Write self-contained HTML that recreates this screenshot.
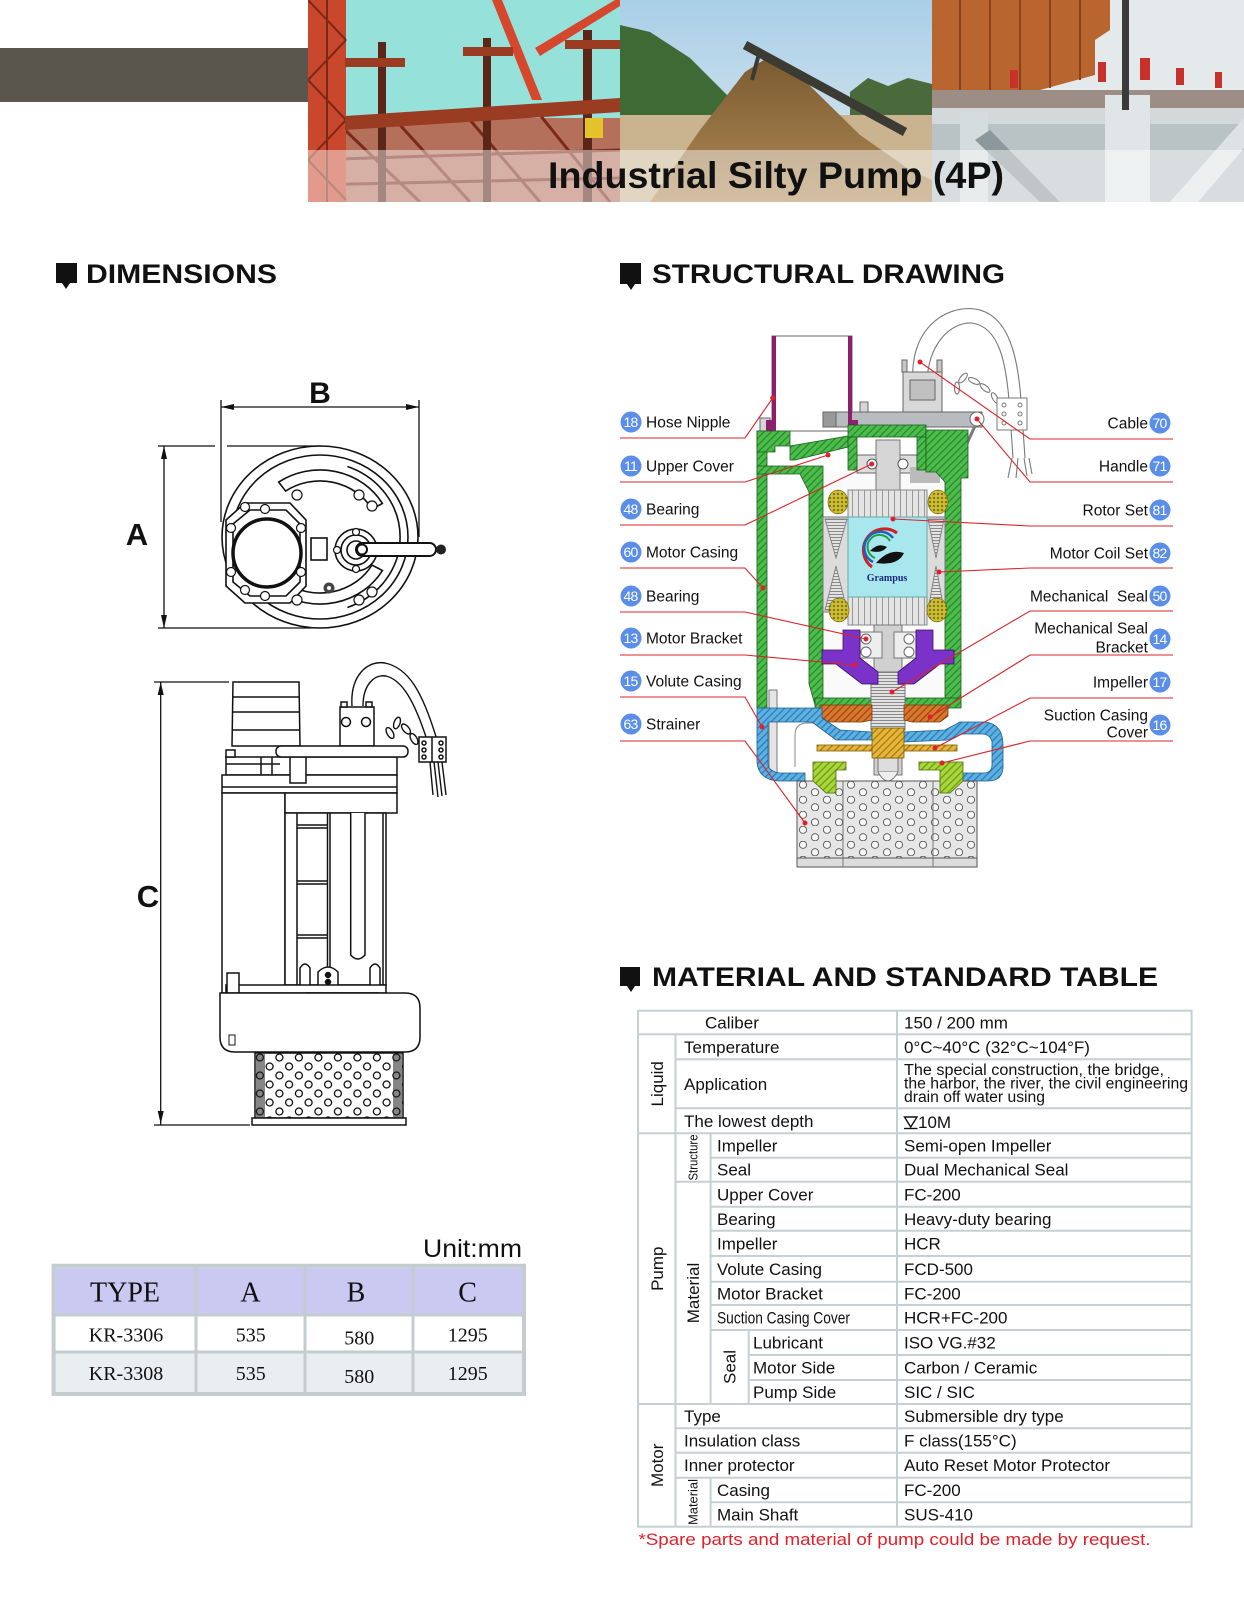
<!DOCTYPE html>
<html><head><meta charset="utf-8"><style>
html,body{margin:0;padding:0;background:#fff;}
svg{display:block;}
text{font-family:"Liberation Sans",Arial,sans-serif;}
.sf{font-family:"Liberation Serif","Times New Roman",serif;}
</style></head><body>
<svg width="1244" height="1600" viewBox="0 0 1244 1600" xmlns="http://www.w3.org/2000/svg">
<defs>
<pattern id="hg" width="5" height="5" patternUnits="userSpaceOnUse" patternTransform="rotate(45)"><rect width="5" height="5" fill="#4cbc4c"/><rect width="1.3" height="5" fill="#2a8a2c"/></pattern>
<pattern id="hb" width="5" height="5" patternUnits="userSpaceOnUse" patternTransform="rotate(45)"><rect width="5" height="5" fill="#5cb0e2"/><rect width="1.3" height="5" fill="#2f7db5"/></pattern>
<pattern id="ho" width="5" height="5" patternUnits="userSpaceOnUse" patternTransform="rotate(45)"><rect width="5" height="5" fill="#d9772f"/><rect width="1.3" height="5" fill="#9a4a12"/></pattern>
<pattern id="hy" width="5" height="5" patternUnits="userSpaceOnUse" patternTransform="rotate(45)"><rect width="5" height="5" fill="#e6b63a"/><rect width="1.3" height="5" fill="#a67c12"/></pattern>
<pattern id="hl" width="5" height="5" patternUnits="userSpaceOnUse" patternTransform="rotate(45)"><rect width="5" height="5" fill="#a9d63c"/><rect width="1.3" height="5" fill="#6c9c14"/></pattern>
<pattern id="hz" width="4" height="3" patternUnits="userSpaceOnUse"><rect width="4" height="3" fill="#e2e2e2"/><rect width="4" height="1" fill="#8a8a8a"/></pattern>
<pattern id="vs" width="6" height="4" patternUnits="userSpaceOnUse"><rect width="6" height="4" fill="#e4e4e4"/><rect width="1" height="4" fill="#999"/></pattern>
<pattern id="dots" width="4" height="4" patternUnits="userSpaceOnUse"><rect width="4" height="4" fill="#cbbb30"/><circle cx="2" cy="2" r="1" fill="#6a6010"/></pattern>
<pattern id="sh" width="24" height="15" patternUnits="userSpaceOnUse" x="797" y="781"><rect width="24" height="15" fill="#e6e6e6"/><circle cx="6" cy="3.75" r="3.6" fill="#f8f8f8" stroke="#555" stroke-width="0.9"/><circle cx="18" cy="11.25" r="3.6" fill="#f8f8f8" stroke="#555" stroke-width="0.9"/></pattern>
<pattern id="dh" width="19.5" height="18" patternUnits="userSpaceOnUse" x="255" y="1053"><rect width="19.5" height="18" fill="#fff"/><circle cx="4.9" cy="4.5" r="3.5" fill="#fff" stroke="#111" stroke-width="1.3"/><circle cx="14.6" cy="13.5" r="3.5" fill="#fff" stroke="#111" stroke-width="1.3"/></pattern>
<linearGradient id="sky2" x1="0" y1="0" x2="0" y2="1"><stop offset="0" stop-color="#a9cfe8"/><stop offset="1" stop-color="#dfe9ee"/></linearGradient>
<linearGradient id="sand" x1="0" y1="0" x2="0" y2="1"><stop offset="0" stop-color="#7a5a30"/><stop offset="1" stop-color="#b08a55"/></linearGradient>
<clipPath id="c1"><rect x="308" y="0" width="312" height="202"/></clipPath>
<clipPath id="c2"><rect x="620" y="0" width="312" height="202"/></clipPath>
<clipPath id="c3"><rect x="932" y="0" width="312" height="202"/></clipPath>
</defs>

<!-- ===== HEADER ===== -->
<rect x="0" y="48" width="308" height="54" fill="#5b564d"/>
<g clip-path="url(#c1)">
<rect x="308" y="0" width="312" height="202" fill="#97e1db"/>
<rect x="308" y="118" width="312" height="84" fill="#b5705c"/>
<g stroke="#7a2a18" stroke-width="3">
<line x1="345" y1="130" x2="420" y2="202"/><line x1="400" y1="125" x2="470" y2="202"/><line x1="470" y1="120" x2="540" y2="202"/><line x1="540" y1="115" x2="610" y2="202"/>
<line x1="308" y1="160" x2="620" y2="150"/><line x1="308" y1="185" x2="620" y2="178"/>
</g>
<rect x="308" y="0" width="38" height="202" fill="#c9472c"/>
<g stroke="#7d2816" stroke-width="2"><line x1="308" y1="0" x2="346" y2="40"/><line x1="346" y1="40" x2="308" y2="80"/><line x1="308" y1="80" x2="346" y2="120"/><line x1="346" y1="120" x2="308" y2="160"/><line x1="308" y1="160" x2="346" y2="200"/><line x1="327" y1="0" x2="327" y2="202"/></g>
<path d="M492,0 L502,0 L542,100 L532,100 Z" fill="#d6482e"/>
<path d="M535,48 L615,0 L620,0 L620,6 L540,56 Z" fill="#d6482e"/>
<rect x="378" y="42" width="8" height="160" fill="#5a2617"/>
<rect x="483" y="38" width="8" height="164" fill="#5a2617"/>
<rect x="583" y="30" width="9" height="172" fill="#5a2617"/>
<rect x="345" y="58" width="60" height="9" fill="#9a3c22"/>
<rect x="463" y="47" width="50" height="9" fill="#9a3c22"/>
<rect x="565" y="40" width="55" height="9" fill="#9a3c22"/>
<path d="M345,116 L620,98 L620,112 L345,130 Z" fill="#9a3c22"/>
<rect x="585" y="118" width="18" height="20" fill="#e4c22a"/>
</g>
<g clip-path="url(#c2)">
<rect x="620" y="0" width="312" height="202" fill="url(#sky2)"/>
<path d="M620,25 L650,32 L690,58 L730,98 L748,120 L620,125 Z" fill="#3e6b35"/>
<path d="M850,92 L868,78 L888,86 L908,78 L932,84 L932,125 L850,125 Z" fill="#4b6a3b"/>
<rect x="620" y="115" width="312" height="87" fill="#c9b48f"/>
<path d="M650,202 L700,130 L745,72 L770,56 L800,76 L860,135 L910,170 L932,180 L932,202 Z" fill="url(#sand)"/>
<line x1="745" y1="45" x2="905" y2="132" stroke="#3b3a33" stroke-width="9"/>
<line x1="760" y1="50" x2="752" y2="80" stroke="#3b3a33" stroke-width="4"/>
</g>
<g clip-path="url(#c3)">
<rect x="932" y="0" width="312" height="202" fill="#e4eaec"/>
<path d="M932,0 L1110,0 L1110,30 L1095,40 L1095,75 L1040,90 L932,95 Z" fill="#b8652f"/>
<g stroke="#8a4218" stroke-width="2"><line x1="960" y1="0" x2="960" y2="92"/><line x1="990" y1="0" x2="990" y2="92"/><line x1="1020" y1="0" x2="1020" y2="90"/><line x1="1050" y1="0" x2="1050" y2="88"/><line x1="1080" y1="0" x2="1080" y2="80"/></g>
<rect x="932" y="90" width="312" height="22" fill="#9c8e84"/>
<rect x="932" y="112" width="312" height="90" fill="#b9c3c6"/>
<rect x="932" y="108" width="312" height="16" fill="#d3d9db"/>
<rect x="1105" y="95" width="45" height="107" fill="#e0e5e7"/>
<rect x="960" y="112" width="28" height="90" fill="#d5dcde"/>
<path d="M1170,202 L1244,118 L1244,148 L1198,202 Z" fill="#dde3e5"/>
<path d="M990,130 L1060,202 L1040,202 L975,140 Z" fill="#8c989c"/>
<rect x="1122" y="0" width="7" height="110" fill="#3a3a3a"/>
<g fill="#c8302a"><rect x="1010" y="70" width="8" height="18"/><rect x="1098" y="62" width="8" height="20"/><rect x="1140" y="58" width="10" height="22"/><rect x="1176" y="68" width="8" height="17"/><rect x="1215" y="72" width="7" height="16"/></g>
</g>
<rect x="308" y="150" width="936" height="52" fill="#fff" opacity="0.45"/>
<text x="548" y="188" font-size="37" font-weight="bold" fill="#111" textLength="456" lengthAdjust="spacingAndGlyphs">Industrial Silty Pump (4P)</text>

<!-- ===== SECTION HEADERS ===== -->
<path d="M56,263 L77,263 L77,283 L70,283 L66,289 L62,283 L56,283 Z" fill="#111"/>
<text x="86" y="283" font-size="27" font-weight="bold" fill="#111" textLength="191" lengthAdjust="spacingAndGlyphs">DIMENSIONS</text>
<path d="M620,263 L641,263 L641,284 L635,284 L631,290 L627,284 L620,284 Z" fill="#111"/>
<text x="652" y="283" font-size="27" font-weight="bold" fill="#111" textLength="353" lengthAdjust="spacingAndGlyphs">STRUCTURAL DRAWING</text>
<path d="M620,967 L640,967 L640,986 L635,986 L631,992 L627,986 L620,986 Z" fill="#111"/>
<text x="652" y="986" font-size="27" font-weight="bold" fill="#111" textLength="506" lengthAdjust="spacingAndGlyphs">MATERIAL AND STANDARD TABLE</text>

<!-- ===== TOP VIEW ===== -->
<g stroke="#111" stroke-width="1.3" fill="none">
<line x1="221" y1="400" x2="221" y2="522"/>
<line x1="419" y1="400" x2="419" y2="537"/>
<line x1="221" y1="407" x2="419" y2="407"/>
<line x1="158" y1="446" x2="215" y2="446"/><line x1="227" y1="446" x2="322" y2="446"/>
<line x1="158" y1="628" x2="311" y2="628"/>
<line x1="164" y1="446" x2="164" y2="628"/>
</g>
<g fill="#111">
<polygon points="221,407 234,404 234,410"/><polygon points="419,407 406,404 406,410"/>
<polygon points="164,446 161,459 167,459"/><polygon points="164,628 161,615 167,615"/>
</g>
<text x="320" y="403" font-size="30" font-weight="bold" text-anchor="middle" fill="#111">B</text>
<text x="137" y="545" font-size="31" font-weight="bold" text-anchor="middle" fill="#111">A</text>
<g stroke="#111" stroke-width="1.6" fill="none">
<ellipse cx="320" cy="537" rx="98" ry="91" fill="#fff"/>
<ellipse cx="320" cy="537" rx="88" ry="82"/>
<path d="M347.4,466.5 A80,75 0 0 1 347.4,607.5"/>
<path d="M278.7,482.1 A72,67 0 0 1 382.4,503.5 L372,509 A60,56 0 0 0 285.6,491.1 Z" fill="#fff"/>
<path d="M278.7,591.9 A72,67 0 0 0 382.4,570.5 L372,565 A60,56 0 0 1 285.6,582.9 Z" fill="#fff"/>
<path d="M245,503 L290,503 L306,520 L306,586 L290,603 L245,603 L226,586 L226,520 Z" fill="#fff"/>
<path d="M250,510 L286,510 L300,524 L300,582 L286,596 L250,596 L233,582 L233,524 Z"/>
<circle cx="267" cy="553" r="34" fill="#fff" stroke-width="3.5"/>
<rect x="311" y="538" width="16" height="22" fill="#fff"/>
<circle cx="356" cy="550" r="21" fill="#fff"/>
<circle cx="356" cy="550" r="15"/>
<circle cx="356" cy="550" r="9"/>
</g>
<g stroke="#111" stroke-width="1.2" fill="#fff">
<circle cx="297" cy="495" r="5"/><circle cx="359" cy="495" r="5"/><circle cx="372" cy="506" r="5"/>
<circle cx="297" cy="600" r="5"/><circle cx="359" cy="600" r="5"/><circle cx="372" cy="592" r="5"/>
<circle cx="245" cy="507" r="4.5"/><circle cx="265" cy="509" r="4.5"/><circle cx="301" cy="528" r="4.5"/><circle cx="301" cy="572" r="4.5"/>
<circle cx="265" cy="596" r="4.5"/><circle cx="245" cy="590" r="4.5"/><circle cx="231" cy="528" r="4.5"/><circle cx="231" cy="572" r="4.5"/>
<circle cx="356" cy="532" r="3.5"/><circle cx="356" cy="569" r="3.5"/><circle cx="337" cy="550" r="3.5"/>
<rect x="356" y="543" width="80" height="13" rx="6.5" stroke-width="2"/>
<circle cx="362" cy="549.5" r="5" stroke-width="2"/>
</g>
<circle cx="441" cy="549.5" r="5" fill="#222"/>
<circle cx="329" cy="588" r="5.5" fill="#444"/><circle cx="329" cy="588" r="2" fill="#fff"/>

<!-- ===== SIDE VIEW ===== -->
<g stroke="#111" stroke-width="1.3" fill="none">
<line x1="154" y1="682" x2="229" y2="682"/>
<line x1="154" y1="1125" x2="250" y2="1125"/>
<line x1="160.7" y1="682" x2="160.7" y2="1125"/>
</g>
<polygon points="160.7,682 157.7,695 163.7,695" fill="#111"/>
<polygon points="160.7,1124 157.7,1111 163.7,1111" fill="#111"/>
<text x="148" y="907" font-size="31" font-weight="bold" text-anchor="middle" fill="#111">C</text>
<g stroke="#111" stroke-width="1.4" fill="none">
<path d="M352,706 C350,675 368,660 385,663 C408,668 422,690 437,740"/>
<path d="M363,706 C363,685 374,674 386,676 C402,680 414,700 427,740"/>
<ellipse cx="390" cy="733" rx="3" ry="6" transform="rotate(-30 390 733)"/>
<ellipse cx="397" cy="723" rx="3" ry="6" transform="rotate(20 397 723)"/>
<ellipse cx="406" cy="729" rx="3" ry="6" transform="rotate(-40 406 729)"/>
<ellipse cx="414" cy="739" rx="3" ry="6" transform="rotate(-30 414 739)"/>
<path d="M430,762 L433,795 M434,762 L438,797 M438,762 L442,796 M442,762 L446,795"/>
</g>
<g stroke="#111" stroke-width="1.5" fill="#fff">
<path d="M233,682 L299,682 L300,746 L232,746 Z"/>
<line x1="232" y1="697" x2="300" y2="697"/><line x1="232" y1="712" x2="300" y2="712"/><line x1="232" y1="730" x2="300" y2="730"/>
<rect x="340" y="707" width="34" height="39"/>
<rect x="341" y="702" width="6" height="5"/><rect x="366" y="702" width="6" height="5"/>
<circle cx="346" cy="722" r="4.5"/><circle cx="366" cy="722" r="4.5"/>
<rect x="419" y="737" width="27" height="25"/>
<line x1="432" y1="737" x2="432" y2="762"/>
<circle cx="424" cy="743" r="2"/><circle cx="424" cy="750" r="2"/><circle cx="424" cy="757" r="2"/>
<circle cx="441" cy="743" r="2"/><circle cx="441" cy="750" r="2"/><circle cx="441" cy="757" r="2"/>
<rect x="226" y="757" width="171" height="18"/>
<line x1="226" y1="764" x2="280" y2="764"/><line x1="261" y1="757" x2="261" y2="775"/><line x1="272" y1="757" x2="272" y2="775"/>
<rect x="226" y="750" width="9" height="7"/>
<rect x="222" y="775" width="175" height="18"/>
<line x1="222" y1="787" x2="397" y2="787"/>
<rect x="290" y="757" width="16" height="26"/>
<rect x="276" y="746" width="132" height="11" rx="5"/>
<rect x="222" y="793" width="63" height="200"/>
<rect x="285" y="793" width="112" height="20"/>
<rect x="285" y="813" width="101" height="172"/>
<line x1="297" y1="813" x2="297" y2="985"/><line x1="327.5" y1="813" x2="327.5" y2="985"/><line x1="330" y1="813" x2="330" y2="985"/><line x1="383" y1="813" x2="383" y2="985"/>
<path d="M350.7,813 L350.7,955 Q357.8,963 365,955 L365,813"/>
<line x1="297" y1="825" x2="327.5" y2="825"/><line x1="297" y1="828" x2="327.5" y2="828"/>
<line x1="297" y1="881" x2="327.5" y2="881"/><line x1="297" y1="884" x2="327.5" y2="884"/>
<line x1="297" y1="935" x2="327.5" y2="935"/><line x1="297" y1="938" x2="327.5" y2="938"/>
<path d="M300,985 L300,968 Q305,960 310,968 L310,985"/>
<path d="M370,985 L370,968 Q375,960 380,968 L380,985"/>
<path d="M318,985 L318,972 Q328,962 338,972 L338,985"/>
<circle cx="328" cy="975" r="2.5" fill="#111"/><circle cx="328" cy="982" r="2.5" fill="#111"/>
<rect x="226" y="985" width="160" height="8"/>
<rect x="227" y="973" width="12" height="20"/>
<rect x="306" y="993" width="72" height="12"/>
<path d="M220,993 L405,993 Q420,993 420,1008 L420,1037 Q420,1052 405,1052 L235,1052 Q220,1052 220,1037 Z"/>
<rect x="255" y="1053" width="148" height="65" fill="url(#dh)"/>
<rect x="252" y="1118" width="154" height="7"/>
</g>
<rect x="256" y="1054" width="9" height="63" fill="#222" opacity="0.55"/>
<rect x="393" y="1054" width="9" height="63" fill="#222" opacity="0.55"/>
<rect x="229" y="1035" width="6" height="10" fill="none" stroke="#111"/>

<!-- ===== STRUCTURAL DRAWING ===== -->
<g stroke="#7a7a7a" stroke-width="1.1" fill="none">
<path d="M914,392 C905,330 945,305 975,309 C1010,314 1018,360 1021,400 L1025,458"/>
<path d="M927,392 C925,345 950,322 972,323 C1000,327 1006,365 1009,400 L1013,458"/>
<path d="M1012,458 L1008,478 M1018,458 L1016,478 M1024,458 L1027,476 M1029,458 L1032,474"/>
<ellipse cx="957" cy="388" rx="2.5" ry="6"/>
<ellipse cx="963" cy="378" rx="2.5" ry="6" transform="rotate(40 963 378)"/>
<ellipse cx="974" cy="381" rx="6" ry="2.5" transform="rotate(25 974 381)"/>
<ellipse cx="985" cy="388" rx="6" ry="2.5" transform="rotate(40 985 388)"/>
<ellipse cx="995" cy="398" rx="2.5" ry="6" transform="rotate(-30 995 398)"/>
<path d="M975,426 L963,452" stroke-width="3"/>
</g>
<g stroke="#777" stroke-width="1" fill="#fff">
<rect x="997" y="398" width="30" height="32"/>
<circle cx="1004" cy="405" r="2"/><circle cx="1004" cy="414" r="2"/><circle cx="1004" cy="423" r="2"/>
<circle cx="1020" cy="405" r="2"/><circle cx="1020" cy="414" r="2"/><circle cx="1020" cy="423" r="2"/>
</g>
<g stroke="#666" stroke-width="1">
<rect x="903" y="372" width="39" height="40" fill="#d8d8d8"/>
<rect x="910" y="380" width="25" height="20" fill="#c0c0c0"/>
<rect x="902" y="360" width="5" height="12" fill="#c8c8c8"/><rect x="937" y="360" width="5" height="12" fill="#c8c8c8"/>
<rect x="772" y="336" width="80" height="95" fill="#fff"/>
<rect x="823" y="412" width="159" height="15" fill="#b8bcc0"/>
<rect x="823" y="412" width="13" height="15" fill="#999"/>
<circle cx="977" cy="419" r="7" fill="#fff"/>
<rect x="760" y="418" width="10" height="16" fill="#d5d5d5"/>
<rect x="860" y="402" width="8" height="10" fill="#d5d5d5"/>
</g>
<rect x="772" y="336" width="4" height="95" fill="#8d1f6e"/>
<rect x="848" y="336" width="4" height="95" fill="#8d1f6e"/>
<rect x="766" y="420" width="10" height="11" fill="#8d1f6e"/>
<rect x="848" y="420" width="10" height="11" fill="#8d1f6e"/>
<!-- interior -->
<rect x="823" y="472" width="122" height="226" fill="#fafafa"/>
<rect x="857" y="455" width="60" height="18" fill="#ddd" stroke="#666"/>
<rect x="876" y="440" width="24" height="50" fill="#d5d5d5" stroke="#777"/>
<circle cx="872" cy="464" r="5" fill="#fff" stroke="#555"/><circle cx="903" cy="464" r="5" fill="#fff" stroke="#555"/>
<rect x="910" y="467" width="30" height="16" fill="#bbb"/>
<!-- green casing -->
<g fill="url(#hg)" stroke="#1d5e20" stroke-width="0.8">
<rect x="757" y="431" width="10" height="277"/>
<path d="M757,431 L790,431 L790,446 L775,446 L775,452 L757,452 Z"/>
<path d="M790,446 L848,436 L848,447 L795,460 L790,460 Z"/>
<rect x="848" y="425" width="78" height="12"/>
<rect x="848" y="437" width="9" height="33"/>
<rect x="917" y="437" width="9" height="33"/>
<path d="M926,430 L968,430 L968,478 L961,478 L961,705 L945,705 L945,482 L936,472 L926,472 Z"/>
<path d="M757,466 L823,466 L823,705 L815,705 L809,684 L809,492 L800,474 L757,474 Z"/>
<rect x="815" y="698" width="146" height="10"/>
</g>
<!-- stator / rotor -->
<rect x="823" y="517" width="122" height="95" fill="#dcdcdc" stroke="#777"/>
<g fill="url(#hz)" stroke="#777" stroke-width="0.8">
<polygon points="825,519 847,519 836,558"/><polygon points="825,610 847,610 836,566"/>
<polygon points="928,519 944,519 936,558"/><polygon points="928,610 944,610 936,566"/>
</g>
<rect x="848" y="490" width="79" height="27" fill="url(#vs)" stroke="#888"/>
<rect x="848" y="597" width="79" height="28" fill="url(#vs)" stroke="#888"/>
<rect x="848" y="517" width="79" height="80" fill="#a9e7ef" stroke="#6aa"/>
<g fill="url(#dots)" stroke="#6a6010" stroke-width="0.6">
<ellipse cx="838" cy="502" rx="10" ry="12"/><ellipse cx="938" cy="502" rx="10" ry="12"/>
<ellipse cx="839" cy="610" rx="10" ry="12"/><ellipse cx="937" cy="610" rx="10" ry="12"/>
</g>
<path d="M897,533 A21,21 0 1 0 872,567" stroke="#d02020" stroke-width="3" fill="none"/>
<path d="M893,538 A16,16 0 1 0 873,562" stroke="#2060c0" stroke-width="2.5" fill="none"/>
<path d="M890,541 A12,12 0 1 0 875,558" stroke="#20a040" stroke-width="2" fill="none"/>
<path d="M870,551 q8,-9 17,-4 q-5,7 -17,4z" fill="#111"/>
<path d="M876,563 q13,-15 28,-10 q-6,13 -28,10z" fill="#111"/>
<text x="887" y="581" class="sf" font-size="10" font-weight="bold" text-anchor="middle" fill="#1a2a7a">Grampus</text>
<!-- shaft & bracket -->
<rect x="874" y="625" width="28" height="150" fill="#d0d0d0" stroke="#777"/>
<rect x="871" y="672" width="34" height="58" fill="url(#hz)" stroke="#777"/>
<rect x="860" y="632" width="22" height="26" fill="#eee" stroke="#777"/>
<rect x="894" y="632" width="22" height="26" fill="#eee" stroke="#777"/>
<circle cx="866" cy="639" r="5" fill="#fff" stroke="#666"/><circle cx="866" cy="652" r="5" fill="#fff" stroke="#666"/>
<circle cx="909" cy="639" r="5" fill="#fff" stroke="#666"/><circle cx="909" cy="652" r="5" fill="#fff" stroke="#666"/>
<g fill="#7a32c8" stroke="#3a1060" stroke-width="0.8">
<path d="M843,630 L860,630 L860,658 L878,672 L878,684 L862,684 L836,664 L822,664 L822,650 L843,650 Z"/>
<path d="M933,630 L916,630 L916,658 L898,672 L898,684 L914,684 L940,664 L954,664 L954,650 L933,650 Z"/>
</g>
<g fill="url(#ho)" stroke="#7a3a0a" stroke-width="0.8">
<path d="M820,705 L872,705 L872,720 L862,722 L828,722 L820,716 Z"/>
<path d="M904,705 L948,705 L948,716 L940,722 L912,722 L904,720 Z"/>
</g>
<rect x="769" y="690" width="8" height="83" fill="#e5e5e5" stroke="#777"/>
<path d="M795,767 L795,735 Q795,723 808,723 L823,723" fill="none" stroke="#888"/>
<!-- volute -->
<g fill="url(#hb)" stroke="#1f5f90" stroke-width="0.8">
<path d="M757,708 L822,708 L822,718 L840,730 L872,732 L872,740 L836,740 L812,722 L768,722 L768,765 Q770,772 780,773 L805,773 L805,781 L778,781 Q757,779 757,760 Z"/>
<path d="M904,732 L945,730 L960,722 L985,722 Q1003,724 1003,745 L1003,768 Q1002,781 988,781 L962,781 L962,773 L985,773 Q992,772 992,765 L992,742 Q990,734 982,734 L962,734 L948,740 L904,742 Z"/>
</g>
<rect x="878" y="758" width="20" height="14" fill="#ddd" stroke="#777"/>
<path d="M878,772 Q888,790 898,772" fill="#eee" stroke="#777"/>
<!-- strainer -->
<rect x="797" y="781" width="180" height="78" fill="url(#sh)" stroke="#555"/>
<rect x="797" y="858" width="180" height="9" fill="#ddd" stroke="#555"/>
<line x1="843" y1="781" x2="843" y2="867" stroke="#777"/><line x1="933" y1="781" x2="933" y2="867" stroke="#777"/>
<g fill="url(#hy)" stroke="#7a5a08" stroke-width="0.8">
<rect x="817" y="745" width="140" height="6"/>
<rect x="872" y="728" width="32" height="30"/>
</g>
<g fill="url(#hl)" stroke="#4a6a08" stroke-width="0.8">
<path d="M813,762 L846,762 L846,770 L836,770 L836,793 L826,793 L813,781 Z"/>
<path d="M919,762 L963,762 L963,781 L950,793 L940,793 L940,770 L919,770 Z"/>
</g>

<!-- leaders -->
<g stroke="#d9242a" stroke-width="1.1" fill="none">
<polyline points="620,438 745,438 772.7,398"/>
<polyline points="620,482 745,482 828,455"/>
<polyline points="620,525 745,525 871.7,464"/>
<polyline points="620,568 745,568 763,588"/>
<polyline points="620,612 745,612 866,639"/>
<polyline points="620,655 745,655 855,665"/>
<polyline points="620,697 745,697 762,727"/>
<polyline points="620,741 745,741 805,823"/>
<polyline points="1173,439 1030,439 920,362"/>
<polyline points="1173,482 1030,482 977,419"/>
<polyline points="1173,526 1030,526 893,519"/>
<polyline points="1173,568 1030,568 939,572"/>
<polyline points="1173,611 1030,611 892,692"/>
<polyline points="1173,655 1030,655 930,717"/>
<polyline points="1173,698 1030,698 935,748"/>
<polyline points="1173,741 1030,741 942,763"/>
</g>
<g fill="#e0202a">
<circle cx="772.7" cy="398" r="2.5"/><circle cx="828" cy="455" r="2.5"/><circle cx="871.7" cy="464" r="2.5"/><circle cx="763" cy="588" r="2.5"/>
<circle cx="866" cy="639" r="2.5"/><circle cx="855" cy="665" r="2.5"/><circle cx="762" cy="727" r="2.5"/><circle cx="805" cy="823" r="2.5"/>
<circle cx="920" cy="362" r="2.5"/><circle cx="977" cy="419" r="2.5"/><circle cx="893" cy="519" r="2.5"/><circle cx="939" cy="572" r="2.5"/>
<circle cx="892" cy="692" r="2.5"/><circle cx="930" cy="717" r="2.5"/><circle cx="935" cy="748" r="2.5"/><circle cx="942" cy="763" r="2.5"/>
</g>
<g fill="#5a8ee8">
<circle cx="631" cy="422" r="10.5"/><circle cx="631" cy="466" r="10.5"/><circle cx="631" cy="509" r="10.5"/><circle cx="631" cy="552" r="10.5"/>
<circle cx="631" cy="596" r="10.5"/><circle cx="631" cy="638" r="10.5"/><circle cx="631" cy="681" r="10.5"/><circle cx="631" cy="724" r="10.5"/>
<circle cx="1160" cy="423" r="10.5"/><circle cx="1160" cy="466" r="10.5"/><circle cx="1160" cy="510" r="10.5"/><circle cx="1160" cy="553" r="10.5"/>
<circle cx="1160" cy="596" r="10.5"/><circle cx="1160" cy="639" r="10.5"/><circle cx="1160" cy="682" r="10.5"/><circle cx="1160" cy="725" r="10.5"/>
</g>
<g fill="#fff" font-size="14" text-anchor="middle" letter-spacing="-0.8">
<text x="630.5" y="427">18</text><text x="630.5" y="471">11</text><text x="630.5" y="514">48</text><text x="630.5" y="557">60</text>
<text x="630.5" y="601">48</text><text x="630.5" y="643">13</text><text x="630.5" y="686">15</text><text x="630.5" y="729">63</text>
<text x="1159.5" y="428">70</text><text x="1159.5" y="471">71</text><text x="1159.5" y="515">81</text><text x="1159.5" y="558">82</text>
<text x="1159.5" y="601">50</text><text x="1159.5" y="644">14</text><text x="1159.5" y="687">17</text><text x="1159.5" y="730">16</text>
</g>
<g fill="#111" font-size="15.5">
<text x="646" y="427.5">Hose Nipple</text>
<text x="646" y="471.5">Upper Cover</text>
<text x="646" y="514.5">Bearing</text>
<text x="646" y="557.5">Motor Casing</text>
<text x="646" y="601.5">Bearing</text>
<text x="646" y="643.5">Motor Bracket</text>
<text x="646" y="686.5">Volute Casing</text>
<text x="646" y="729.5">Strainer</text>
</g>
<g fill="#111" font-size="15.5" text-anchor="end">
<text x="1148" y="428.5">Cable</text>
<text x="1148" y="471.5">Handle</text>
<text x="1148" y="515.5">Rotor Set</text>
<text x="1148" y="558.5">Motor Coil Set</text>
<text x="1148" y="601.5" xml:space="preserve">Mechanical  Seal</text>
<text x="1148" y="633.5">Mechanical Seal</text>
<text x="1148" y="652.5">Bracket</text>
<text x="1148" y="687.5">Impeller</text>
<text x="1148" y="720.5">Suction Casing</text>
<text x="1148" y="737.5">Cover</text>
</g>

<!-- ===== DIMENSION TABLE ===== -->
<text x="423" y="1257" font-size="25" fill="#111" textLength="99" lengthAdjust="spacingAndGlyphs">Unit:mm</text>
<rect x="55.6" y="1267.7" width="466.4" height="47.3" fill="#c9c9f1"/>
<rect x="55.6" y="1352" width="466.4" height="40" fill="#e9eef0"/>
<g stroke="#c3cdd0" fill="none">
<rect x="53.6" y="1265.7" width="470.4" height="128.3" stroke-width="4"/>
<line x1="55" y1="1315" x2="522" y2="1315" stroke-width="3"/>
<line x1="55" y1="1352" x2="522" y2="1352" stroke-width="3"/>
<line x1="196" y1="1267" x2="196" y2="1392" stroke-width="3"/>
<line x1="305" y1="1267" x2="305" y2="1392" stroke-width="3"/>
<line x1="413" y1="1267" x2="413" y2="1392" stroke-width="3"/>
</g>
<g class="sf" fill="#111" text-anchor="middle">
<text x="125" y="1301.5" font-size="28" class="sf">TYPE</text>
<text x="250.5" y="1301.5" font-size="28" class="sf">A</text>
<text x="356" y="1301.5" font-size="28" class="sf">B</text>
<text x="467.6" y="1301.5" font-size="28" class="sf">C</text>
<text x="126" y="1341.7" font-size="20" class="sf">KR-3306</text>
<text x="250.7" y="1341.7" font-size="20" class="sf">535</text>
<text x="359.3" y="1344.5" font-size="20" class="sf">580</text>
<text x="467.7" y="1341.7" font-size="20" class="sf">1295</text>
<text x="126" y="1380" font-size="20" class="sf">KR-3308</text>
<text x="250.7" y="1380" font-size="20" class="sf">535</text>
<text x="359.3" y="1383" font-size="20" class="sf">580</text>
<text x="467.7" y="1380" font-size="20" class="sf">1295</text>
</g>

<!-- ===== MATERIAL TABLE ===== -->
<g stroke="#c6d0d4" stroke-width="2" fill="none">
<rect x="638" y="1010.7" width="553.6" height="516"/>
<line x1="638" y1="1034.3" x2="1191.6" y2="1034.3"/>
<line x1="675.5" y1="1059.3" x2="1191.6" y2="1059.3"/>
<line x1="675.5" y1="1108.3" x2="1191.6" y2="1108.3"/>
<line x1="638" y1="1133.3" x2="1191.6" y2="1133.3"/>
<line x1="710.6" y1="1157.7" x2="1191.6" y2="1157.7"/>
<line x1="675.5" y1="1181.7" x2="1191.6" y2="1181.7"/>
<line x1="710.6" y1="1206.7" x2="1191.6" y2="1206.7"/>
<line x1="710.6" y1="1230.7" x2="1191.6" y2="1230.7"/>
<line x1="710.6" y1="1256" x2="1191.6" y2="1256"/>
<line x1="710.6" y1="1281.7" x2="1191.6" y2="1281.7"/>
<line x1="710.6" y1="1305" x2="1191.6" y2="1305"/>
<line x1="710.6" y1="1330" x2="1191.6" y2="1330"/>
<line x1="748.7" y1="1355" x2="1191.6" y2="1355"/>
<line x1="748.7" y1="1380" x2="1191.6" y2="1380"/>
<line x1="638" y1="1404" x2="1191.6" y2="1404"/>
<line x1="675.5" y1="1428.3" x2="1191.6" y2="1428.3"/>
<line x1="675.5" y1="1452.7" x2="1191.6" y2="1452.7"/>
<line x1="675.5" y1="1477.7" x2="1191.6" y2="1477.7"/>
<line x1="710.6" y1="1502.3" x2="1191.6" y2="1502.3"/>
<line x1="897" y1="1010.7" x2="897" y2="1526.7"/>
<line x1="675.5" y1="1034.3" x2="675.5" y2="1526.7"/>
<line x1="710.6" y1="1133.3" x2="710.6" y2="1404"/>
<line x1="710.6" y1="1477.7" x2="710.6" y2="1526.7"/>
<line x1="748.7" y1="1330" x2="748.7" y2="1404"/>
</g>
<g fill="#111" font-size="17">
<text x="705" y="1028.5">Caliber</text><text x="904" y="1028.5">150 / 200 mm</text>
<text x="684" y="1053">Temperature</text><text x="904" y="1053">0°C~40°C (32°C~104°F)</text>
<text x="684" y="1090">Application</text>
<text x="684" y="1127">The lowest depth</text><text x="918" y="1128">10M</text>
<text x="717" y="1151.5">Impeller</text><text x="904" y="1151.5">Semi-open Impeller</text>
<text x="717" y="1175.7">Seal</text><text x="904" y="1175.7">Dual Mechanical Seal</text>
<text x="717" y="1200.5">Upper Cover</text><text x="904" y="1200.5">FC-200</text>
<text x="717" y="1225">Bearing</text><text x="904" y="1225">Heavy-duty bearing</text>
<text x="717" y="1249.5">Impeller</text><text x="904" y="1249.5">HCR</text>
<text x="717" y="1275">Volute Casing</text><text x="904" y="1275">FCD-500</text>
<text x="717" y="1299.5">Motor Bracket</text><text x="904" y="1299.5">FC-200</text>
<text x="717" y="1323.5" textLength="133" lengthAdjust="spacingAndGlyphs">Suction Casing Cover</text><text x="904" y="1323.5">HCR+FC-200</text>
<text x="753" y="1348.5">Lubricant</text><text x="904" y="1348.5">ISO VG.#32</text>
<text x="753" y="1373.5">Motor Side</text><text x="904" y="1373.5">Carbon / Ceramic</text>
<text x="753" y="1398">Pump Side</text><text x="904" y="1398">SIC / SIC</text>
<text x="684" y="1422.2">Type</text><text x="904" y="1422.2">Submersible dry type</text>
<text x="684" y="1446.5">Insulation class</text><text x="904" y="1446.5">F class(155°C)</text>
<text x="684" y="1471.2">Inner protector</text><text x="904" y="1471.2">Auto Reset Motor Protector</text>
<text x="717" y="1496">Casing</text><text x="904" y="1496">FC-200</text>
<text x="717" y="1520.5">Main Shaft</text><text x="904" y="1520.5">SUS-410</text>
</g>
<g fill="#111" font-size="15.5">
<text x="904" y="1075" textLength="260" lengthAdjust="spacingAndGlyphs">The special construction, the bridge,</text>
<text x="904" y="1088.5" textLength="284" lengthAdjust="spacingAndGlyphs">the harbor, the river, the civil engineering</text>
<text x="904" y="1102" textLength="141" lengthAdjust="spacingAndGlyphs">drain off water using</text>
</g>
<polygon points="904.5,1117 917,1117 910.7,1127" fill="none" stroke="#111" stroke-width="1.4"/>
<line x1="904" y1="1128.5" x2="917.5" y2="1128.5" stroke="#111" stroke-width="1.4"/>
<g fill="#111" text-anchor="middle">
<text transform="translate(662.8,1083.8) rotate(-90)" font-size="17">Liquid</text>
<text transform="translate(662.8,1268.7) rotate(-90)" font-size="17">Pump</text>
<text transform="translate(662.8,1465.3) rotate(-90)" font-size="17">Motor</text>
<text transform="translate(697.5,1157.5) rotate(-90)" font-size="13" textLength="46" lengthAdjust="spacingAndGlyphs">Structure</text>
<text transform="translate(699,1293) rotate(-90)" font-size="17">Material</text>
<text transform="translate(735.6,1367) rotate(-90)" font-size="17">Seal</text>
<text transform="translate(697.5,1502) rotate(-90)" font-size="13" textLength="46" lengthAdjust="spacingAndGlyphs">Material</text>
</g>
<text x="638.5" y="1545" font-size="17" fill="#e0202a" textLength="512" lengthAdjust="spacingAndGlyphs">*Spare parts and material of pump could be made by request.</text>
</svg>
</body></html>
